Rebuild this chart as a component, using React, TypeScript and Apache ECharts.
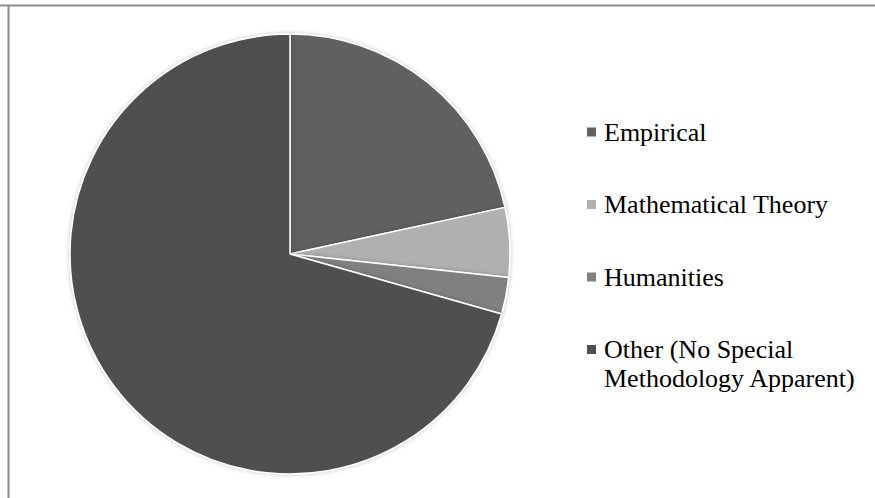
import React, { useEffect, useRef } from "react";
import * as echarts from "echarts";

const categories = [
  "Empirical",
  "Mathematical Theory",
  "Humanities",
  "Other (No Special Methodology Apparent)",
];
const values = [21.6, 5.1, 2.7, 70.6];
const colors = ["#606060", "#b0b0b0", "#808080", "#4f4f4f"];
const legendLines: string[][] = [
  ["Empirical"],
  ["Mathematical Theory"],
  ["Humanities"],
  ["Other (No Special", "Methodology Apparent)"],
];

export default function App() {
  const ref = useRef<HTMLDivElement>(null);
  useEffect(() => {
    document.body.style.margin = "0";
    const chart = echarts.init(ref.current!, null, { renderer: "svg" });
    const rich: any = {
      pad: { width: 17, height: 29, lineHeight: 29 },
      t: { fontFamily: "Liberation Serif", fontSize: 26, color: "#000", lineHeight: 29 },
    };
    colors.forEach((c, i) => {
      rich["sq" + i] = { width: 9, height: 9, backgroundColor: c, padding: 0 };
      rich["gap" + i] = { width: 8 };
    });
    chart.setOption({
      animation: false,
      backgroundColor: "#fff",
      graphic: [
        { type: "line", shape: { x1: 0, y1: 5.5, x2: 875, y2: 5.5 }, style: { stroke: "#8c8c8c", lineWidth: 2 } },
        { type: "line", shape: { x1: 8.5, y1: 5, x2: 8.5, y2: 498 }, style: { stroke: "#8c8c8c", lineWidth: 2 } },
      ],
      legend: {
        orient: "vertical",
        left: 582,
        top: 119,
        padding: 0,
        itemGap: 46.5,
        icon: "none",
        itemWidth: 0,
        itemHeight: 0,
        selectedMode: false,
        data: categories,
        formatter: (name: string) => {
          const i = categories.indexOf(name);
          const lines = legendLines[i];
          return lines
            .map((l, k) =>
              k === 0 ? `{sq${i}|}{gap${i}|}{t|${l}}` : `{pad|}{t|${l}}`
            )
            .join("\n");
        },
        textStyle: { rich, padding: 0 },
      },
      series: [
        {
          type: "pie",
          center: [290, 254],
          radius: 220,
          startAngle: 90,
          clockwise: true,
          label: { show: false },
          labelLine: { show: false },
          emphasis: { disabled: true },
          itemStyle: {
            borderColor: "#ffffff",
            borderWidth: 1.5,
            shadowBlur: 4,
            shadowColor: "rgba(0,0,0,0.25)",
          },
          data: categories.map((name, i) => ({
            name,
            value: values[i],
            itemStyle: { color: colors[i] },
          })),
        },
      ],
    });
    return () => chart.dispose();
  }, []);
  return <div ref={ref} style={{ width: 875, height: 498 }} />;
}
